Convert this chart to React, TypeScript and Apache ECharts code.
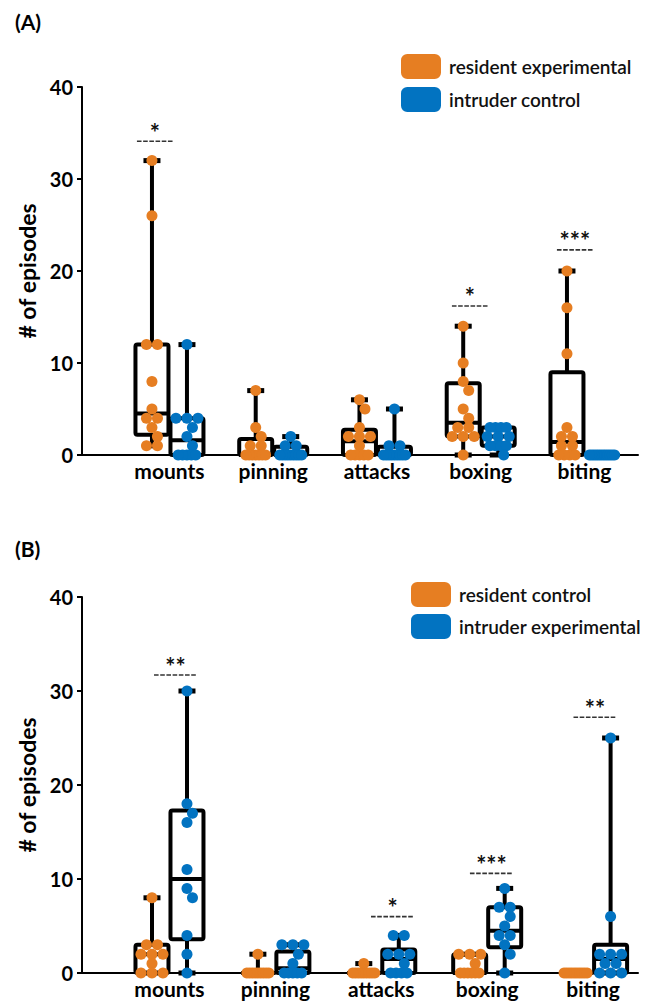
import React, { useEffect, useRef } from 'react';
import * as echarts from 'echarts';

// ---------- data ----------
const categories = ['mounts', 'pinning', 'attacks', 'boxing', 'biting'];
const yMin = 0;
const yMax = 40;
const yStep = 10;

// Panel A: points per category
const aResidentExperimental = [
  [32, 26, 12, 12, 8, 5, 4, 4, 3, 2, 1, 1],
  [7, 3, 2, 1, 1, 0, 0, 0, 0, 0, 0, 0],
  [6, 5, 3, 2, 2, 2, 1, 0, 0, 0, 0, 0],
  [14, 10, 8, 7, 5, 4, 3, 3, 2, 2, 2, 0],
  [20, 16, 11, 3, 2, 2, 1, 1, 0, 0, 0, 0],
];
const aIntruderControl = [
  [12, 4, 4, 4, 3, 2, 1, 0, 0, 0, 0, 0],
  [2, 1, 1, 0, 0, 0, 0, 0, 0, 0, 0, 0],
  [5, 1, 1, 0, 0, 0, 0, 0, 0, 0, 0, 0],
  [3, 3, 3, 3, 2, 2, 2, 1, 1, 1, 1, 0],
  [0, 0, 0, 0, 0, 0, 0, 0, 0, 0, 0, 0],
];
// box stats: [min, q1, median, q3, max]
const aResidentExperimentalBox = [
  [1, 2.2, 4.5, 12, 32],
  [0, 0, 0, 1.75, 7],
  [0, 0, 1.5, 2.75, 6],
  [0, 2, 3.5, 7.8, 14],
  [0, 0, 1.4, 9, 20],
];
const aIntruderControlBox = [
  [0, 0, 1.6, 4, 12],
  [0, 0, 0, 0.9, 2],
  [0, 0, 0, 0.9, 5],
  [0, 1, 2, 3, 3],
  [0, 0, 0, 0, 0],
];
// significance marks: [x (category units), y of dashed bar, stars]
const aSignificance: [number, number, string][] = [
  [-0.14, 34.1, '*'],
  [2.896, 16.2, '*'],
  [3.908, 22.3, '***'],
];

// Panel B
const bResidentControl = [
  [8, 3, 3, 2, 2, 2, 1, 0, 0, 0],
  [2, 0, 0, 0, 0, 0, 0, 0, 0, 0],
  [1, 0, 0, 0, 0, 0, 0, 0, 0, 0],
  [2, 2, 2, 1, 0, 0, 0, 0, 0, 0],
  [0, 0, 0, 0, 0, 0, 0, 0, 0, 0],
];
const bIntruderExperimental = [
  [30, 18, 17, 16, 11, 9, 8, 4, 2, 0],
  [3, 3, 3, 2, 1, 0, 0, 0, 0, 0],
  [4, 4, 2, 2, 2, 1, 0, 0, 0, 0],
  [9, 7, 7, 6, 5, 4, 4, 3, 2, 0],
  [25, 6, 2, 2, 2, 1, 1, 0, 0, 0],
];
const bResidentControlBox = [
  [0, 0, 2, 3, 8],
  [0, 0, 0, 0, 2],
  [0, 0, 0, 0, 1],
  [0, 0, 0, 2, 2],
  [0, 0, 0, 0, 0],
];
const bIntruderExperimentalBox = [
  [0, 3.6, 10, 17.3, 30],
  [0, 0, 0.5, 2.3, 3],
  [0, 0, 1.5, 2.5, 4],
  [0, 2.75, 4.5, 7, 9],
  [0, 0, 1.5, 3, 25],
];
const bSignificance: [number, number, string][] = [
  [0.057, 31.7, '**'],
  [2.106, 6.0, '*'],
  [3.04, 10.6, '***'],
  [4.018, 27.2, '**'],
];

// ---------- styling / layout ----------
const ORANGE = '#E67E22';
const BLUE = '#0273C1';
const FONT = 'Lato, "Open Sans", sans-serif';
const DOT = 11;
const SIDE_PX = 17.5;

const panels = [
  {
    grid: { left: 82, top: 87, width: 556, height: 368 },
    xMin: -0.843,
    xMax: 4.516,
    left: { name: 'resident experimental', pts: aResidentExperimental, box: aResidentExperimentalBox },
    right: { name: 'intruder control', pts: aIntruderControl, box: aIntruderControlBox },
    sig: aSignificance,
    barHalf: 18,
    legend: { left: 401, top: 54, gap: 8 },
  },
  {
    grid: { left: 82, top: 597, width: 556, height: 376 },
    xMin: -0.826,
    xMax: 4.424,
    left: { name: 'resident control', pts: bResidentControl, box: bResidentControlBox },
    right: { name: 'intruder experimental', pts: bIntruderExperimental, box: bIntruderExperimentalBox },
    sig: bSignificance,
    barHalf: 21.5,
    legend: { left: 411, top: 582, gap: 7 },
  },
];

function swarm(values: number[], pxY: number): number[] {
  const step = DOT / 2;
  const minDist = DOT * 0.9;
  const idx = values.map((_, i) => i).sort((a, b) => values[b] - values[a]);
  const off = new Array(values.length).fill(0);
  const placed: [number, number][] = [];
  for (const i of idx) {
    const y = values[i] * pxY;
    for (let k = 0; k < 60; k++) {
      const c = k === 0 ? 0 : (k % 2 === 1 ? 1 : -1) * Math.ceil(k / 2) * step;
      if (placed.every(([px, py]) => Math.hypot(px - c, py - y) >= minDist)) {
        off[i] = c;
        placed.push([c, y]);
        break;
      }
    }
  }
  const rows = new Map<number, number[]>();
  values.forEach((v, i) => rows.set(v, [...(rows.get(v) || []), i]));
  rows.forEach((ix) => {
    if (ix.length < 2) return;
    const mean = ix.reduce((s, i) => s + off[i], 0) / ix.length;
    ix.forEach((i) => (off[i] -= mean));
    if (ix.length >= 4) {
      const lim = 6 + 0.55 * ix.length;
      const mx = Math.max(...ix.map((i) => Math.abs(off[i])));
      if (mx > lim) ix.forEach((i) => (off[i] *= lim / mx));
    }
  });
  return off;
}

function buildOption() {
  const grid: any[] = [];
  const xAxis: any[] = [];
  const yAxis: any[] = [];
  const series: any[] = [];
  const legend: any[] = [];

  panels.forEach((p, pi) => {
    grid.push({ ...p.grid, containLabel: false });
    const pxX = p.grid.width / (p.xMax - p.xMin);
    const pxY = p.grid.height / (yMax - yMin);
    xAxis.push({
      type: 'value',
      gridIndex: pi,
      min: p.xMin,
      max: p.xMax,
      axisLine: { show: true, onZero: false, lineStyle: { color: '#000', width: 2 } },
      axisTick: { show: false },
      splitLine: { show: false },
      axisLabel: {
        customValues: categories.map((_, i) => i),
        formatter: (v: number) => categories[Math.round(v)] ?? '',
        color: '#000',
        fontFamily: FONT,
        fontWeight: 'bold',
        fontSize: 21,
        margin: 5,
      },
    });
    yAxis.push({
      type: 'value',
      gridIndex: pi,
      min: yMin,
      max: yMax,
      interval: yStep,
      name: '# of episodes',
      nameLocation: 'middle',
      nameGap: 44,
      nameRotate: 90,
      nameTextStyle: { color: '#000', fontFamily: FONT, fontWeight: 'bold', fontSize: 23 },
      axisLine: { show: true, onZero: false, lineStyle: { color: '#000', width: 2 } },
      axisTick: { show: true, length: 5, lineStyle: { color: '#000', width: 2 } },
      splitLine: { show: false },
      axisLabel: { color: '#000', fontFamily: FONT, fontWeight: 'bold', fontSize: 20, margin: 9 },
    });

    const groups = [
      { g: p.left, side: -1, color: ORANGE },
      { g: p.right, side: 1, color: BLUE },
    ];
    groups.forEach(({ g, side }) => {
      series.push({
        type: 'custom',
        xAxisIndex: pi,
        yAxisIndex: pi,
        z: 2,
        silent: true,
        encode: { x: 0, y: [1, 5] },
        data: g.box.map((b, i) => [i, ...b]),
        renderItem: (params: any, api: any) => {
          const i = api.value(0);
          const cx = api.coord([i, 0])[0] + side * SIDE_PX;
          const yy = (k: number) => api.coord([i, api.value(k)])[1];
          const yMn = yy(1), yQ1 = yy(2), yMd = yy(3), yQ3 = yy(4), yMx = yy(5);
          const hw = 16.5;
          const st = { stroke: '#000', lineWidth: 4, fill: 'none' };
          return {
            type: 'group',
            children: [
              { type: 'line', shape: { x1: cx, y1: yQ3, x2: cx, y2: yMx }, style: st },
              { type: 'line', shape: { x1: cx, y1: yQ1, x2: cx, y2: yMn }, style: st },
              { type: 'line', shape: { x1: cx - 8.5, y1: yMx, x2: cx + 8.5, y2: yMx }, style: { ...st, lineWidth: 5 } },
              { type: 'line', shape: { x1: cx - 8.5, y1: yMn, x2: cx + 8.5, y2: yMn }, style: { ...st, lineWidth: 5 } },
              { type: 'rect', shape: { x: cx - hw, y: yQ3, width: hw * 2, height: yQ1 - yQ3, r: 2 }, style: { ...st, lineJoin: 'round' } },
              { type: 'line', shape: { x1: cx - hw, y1: yMd, x2: cx + hw, y2: yMd }, style: st },
            ],
          };
        },
      });
    });
    groups.forEach(({ g, side, color }) => {
      const data: number[][] = [];
      g.pts.forEach((vals, ci) => {
        const off = swarm(vals, pxY);
        vals.forEach((v, k) => data.push([ci + (side * SIDE_PX + off[k]) / pxX, v]));
      });
      series.push({
        type: 'scatter',
        name: g.name,
        xAxisIndex: pi,
        yAxisIndex: pi,
        z: 3,
        clip: false,
        symbol: 'circle',
        symbolSize: DOT,
        itemStyle: { color, opacity: 1 },
        data,
      });
    });
    series.push({
      type: 'custom',
      xAxisIndex: pi,
      yAxisIndex: pi,
      z: 4,
      silent: true,
      encode: { x: 0, y: 1 },
      data: p.sig.map((s) => [s[0], s[1]]),
      renderItem: (params: any, api: any) => {
        const pt = api.coord([api.value(0), api.value(1)]);
        const stars = p.sig[params.dataIndex][2];
        return {
          type: 'group',
          children: [
            {
              type: 'line',
              shape: { x1: pt[0] - p.barHalf, y1: pt[1], x2: pt[0] + p.barHalf, y2: pt[1] },
              style: { stroke: '#333', lineWidth: 1.6, lineDash: [4.6, 1.6] },
            },
            {
              type: 'text',
              x: pt[0],
              y: pt[1] - 9,
              style: {
                text: stars,
                fontSize: 24,
                fontWeight: 'bold',
                fontFamily: FONT,
                fill: '#111',
                align: 'center',
                verticalAlign: 'middle',
              },
            },
          ],
        };
      },
    });
    legend.push({
      data: [p.left.name, p.right.name],
      left: p.legend.left,
      top: p.legend.top,
      orient: 'vertical',
      itemWidth: 40,
      itemHeight: 25,
      itemGap: p.legend.gap,
      icon: 'roundRect',
      padding: 0,
      selectedMode: false,
      textStyle: { fontSize: 19, fontWeight: 600, color: '#111', fontFamily: FONT, padding: [0, 0, 0, 3] },
    });
  });

  return {
    animation: false,
    backgroundColor: '#fff',
    grid,
    xAxis,
    yAxis,
    legend,
    series,
    graphic: [
      { type: 'text', left: 15, top: 11, style: { text: '(A)', fontSize: 21, fontWeight: 'bold', fontFamily: FONT, fill: '#000' } },
      { type: 'text', left: 15, top: 538, style: { text: '(B)', fontSize: 21, fontWeight: 'bold', fontFamily: FONT, fill: '#000' } },
    ],
  };
}

export default function App() {
  const ref = useRef<HTMLDivElement>(null);
  useEffect(() => {
    if (!ref.current) return;
    const chart = echarts.init(ref.current, undefined, { renderer: 'svg' });
    chart.setOption(buildOption() as any);
    return () => chart.dispose();
  }, []);
  return <div ref={ref} style={{ position: 'absolute', left: 0, top: 0, width: 646, height: 1004 }} />;
}
